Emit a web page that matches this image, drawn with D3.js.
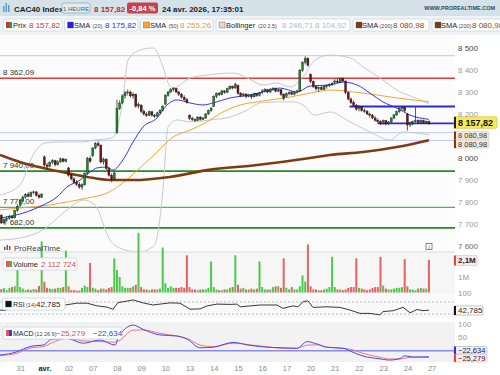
<!DOCTYPE html>
<html>
<head>
<meta charset="utf-8">
<script src="https://cdn.jsdelivr.net/npm/d3@7"></script>
<style>
  body { margin: 0; background: #fff; }
  svg { display: block; font-family: "Liberation Sans", Arial, sans-serif; }
</style>
</head>
<body>
<div id="chart"></div>
<script>
// ---- data ----
const dayLabels = ["31", "avr.", "02", "07", "08", "09", "10", "13", "14", "15", "16", "17", "20", "21", "22", "23", "24", "27"];
const firstCandle = 2; // Mar 30, 11:00 (index 0 = Mar 30 09:00, 9 hourly candles a day)

// [open, high, low, close]
const candles = [
  // 30 mars
  [7740, 7745, 7700, 7705], [7705, 7725, 7700, 7720], [7720, 7735, 7712, 7725], [7725, 7742, 7720, 7735],
  [7735, 7740, 7722, 7728], [7728, 7765, 7725, 7760], [7760, 7790, 7755, 7780],
  // 31
  [7785, 7812, 7778, 7805], [7805, 7830, 7800, 7822], [7822, 7840, 7815, 7835], [7835, 7845, 7820, 7826],
  [7826, 7848, 7822, 7842], [7842, 7852, 7835, 7846], [7846, 7850, 7825, 7830], [7830, 7838, 7815, 7822],
  [7822, 7840, 7818, 7836],
  // avr.
  [8005, 8012, 7960, 7968], [7968, 7978, 7950, 7962], [7962, 7985, 7958, 7980], [7980, 7995, 7972, 7988],
  [7988, 7992, 7962, 7970], [7970, 7990, 7965, 7982], [7982, 8002, 7978, 7996], [7996, 8000, 7980, 7985],
  [7985, 7998, 7980, 7992],
  // 02
  [7955, 7958, 7915, 7922], [7922, 7930, 7898, 7905], [7905, 7912, 7882, 7890], [7890, 7900, 7872, 7880],
  [7880, 7890, 7860, 7868], [7868, 7885, 7855, 7878], [7878, 7935, 7875, 7930], [7930, 8005, 7925, 7998],
  [7998, 8008, 7978, 7985],
  // 07
  [8010, 8050, 8005, 8045], [8045, 8072, 8040, 8065], [8065, 8078, 8052, 8058], [8058, 8062, 7975, 7982],
  [7982, 8002, 7970, 7995], [7995, 7998, 7945, 7952], [7952, 7960, 7915, 7922], [7922, 7930, 7890, 7905],
  [7905, 7938, 7900, 7932],
  // 08
  [8115, 8265, 8110, 8225], [8225, 8262, 8218, 8250], [8250, 8290, 8245, 8282], [8282, 8305, 8270, 8296],
  [8296, 8312, 8285, 8300], [8300, 8306, 8275, 8282], [8282, 8298, 8270, 8290], [8290, 8292, 8228, 8236],
  [8236, 8252, 8225, 8245],
  // 09
  [8240, 8245, 8205, 8212], [8212, 8220, 8192, 8200], [8200, 8208, 8186, 8194], [8194, 8215, 8190, 8210],
  [8210, 8212, 8188, 8195], [8195, 8200, 8182, 8190], [8190, 8210, 8188, 8205], [8205, 8222, 8198, 8216],
  [8216, 8240, 8212, 8235],
  // 10
  [8245, 8290, 8240, 8285], [8285, 8305, 8278, 8300], [8300, 8318, 8295, 8310], [8310, 8322, 8302, 8316],
  [8316, 8320, 8295, 8300], [8300, 8305, 8282, 8290], [8290, 8296, 8270, 8276], [8276, 8285, 8260, 8266],
  [8266, 8272, 8248, 8252],
  // 13
  [8195, 8198, 8172, 8180], [8180, 8188, 8168, 8175], [8175, 8180, 8164, 8170], [8170, 8190, 8168, 8186],
  [8186, 8190, 8170, 8176], [8176, 8186, 8172, 8182], [8182, 8205, 8178, 8200], [8200, 8220, 8196, 8215],
  [8215, 8232, 8210, 8226],
  // 14
  [8235, 8285, 8232, 8280], [8280, 8298, 8272, 8294], [8294, 8300, 8282, 8288], [8288, 8310, 8285, 8305],
  [8305, 8308, 8292, 8298], [8298, 8320, 8295, 8315], [8315, 8330, 8310, 8326], [8326, 8330, 8312, 8318],
  [8318, 8342, 8315, 8336],
  // 15
  [8330, 8334, 8288, 8294], [8294, 8300, 8278, 8284], [8284, 8296, 8280, 8291], [8291, 8294, 8272, 8280],
  [8280, 8292, 8276, 8287], [8287, 8290, 8268, 8278], [8278, 8296, 8275, 8292], [8292, 8295, 8278, 8284],
  [8284, 8300, 8280, 8296],
  // 16
  [8300, 8312, 8290, 8305], [8305, 8318, 8298, 8310], [8310, 8314, 8294, 8300], [8300, 8318, 8296, 8312],
  [8312, 8322, 8305, 8316], [8316, 8320, 8298, 8304], [8304, 8315, 8300, 8310], [8310, 8312, 8282, 8290],
  [8290, 8294, 8262, 8272],
  // 17
  [8280, 8298, 8275, 8292], [8292, 8302, 8285, 8298], [8298, 8305, 8286, 8290], [8290, 8302, 8285, 8300],
  [8300, 8310, 8292, 8305], [8305, 8405, 8300, 8398], [8398, 8440, 8392, 8435], [8435, 8462, 8425, 8452],
  [8452, 8458, 8415, 8422],
  // 20
  [8380, 8385, 8340, 8348], [8348, 8352, 8318, 8325], [8325, 8332, 8305, 8315], [8315, 8325, 8300, 8320],
  [8320, 8328, 8308, 8312], [8312, 8330, 8308, 8326], [8326, 8335, 8315, 8330], [8330, 8340, 8322, 8334],
  [8334, 8345, 8328, 8340],
  // 21
  [8345, 8358, 8335, 8350], [8350, 8362, 8340, 8344], [8344, 8365, 8340, 8360], [8360, 8366, 8345, 8350],
  [8350, 8352, 8290, 8298], [8298, 8302, 8262, 8268], [8268, 8275, 8245, 8252], [8252, 8262, 8235, 8240],
  [8240, 8245, 8215, 8222],
  // 22
  [8225, 8240, 8212, 8232], [8232, 8236, 8210, 8216], [8216, 8225, 8205, 8212], [8212, 8218, 8195, 8200],
  [8200, 8205, 8185, 8195], [8195, 8200, 8176, 8182], [8182, 8190, 8165, 8172], [8172, 8180, 8158, 8166],
  [8166, 8172, 8150, 8158],
  // 23
  [8165, 8175, 8152, 8170], [8170, 8172, 8148, 8155], [8155, 8168, 8150, 8164], [8164, 8185, 8160, 8182],
  [8182, 8200, 8176, 8196], [8196, 8215, 8190, 8210], [8210, 8230, 8205, 8226], [8226, 8235, 8215, 8230],
  [8230, 8234, 8208, 8215],
  // 24
  [8200, 8205, 8125, 8150], [8150, 8165, 8140, 8160], [8160, 8170, 8148, 8165], [8165, 8230, 8160, 8170],
  [8170, 8176, 8155, 8162], [8162, 8175, 8158, 8170], [8170, 8174, 8156, 8160], [8160, 8170, 8156, 8166],
  [8166, 8170, 8152, 8157.82]
];

// volume in millions, one per candle
const volumes = [
  0.22, 0.28, 0.15, 0.3, 0.35, 0.4, 2.1,
  0.35, 0.25, 0.15, 0.2, 0.17, 0.22, 0.2, 0.42, 3.3,
  0.7, 0.3, 0.25, 0.22, 0.25, 0.3, 0.3, 0.35, 2.7,
  0.4, 0.15, 0.15, 0.12, 0.13, 0.3, 0.45, 0.35, 1.9,
  0.3, 0.25, 0.15, 0.25, 0.25, 0.2, 0.3, 0.35, 2.2,
  1.45, 1.0, 0.4, 0.3, 0.3, 0.3, 0.4, 0.5, 3.85,
  0.35, 0.2, 0.2, 0.15, 0.2, 0.2, 0.2, 0.25, 2.9,
  0.6, 0.3, 0.4, 0.3, 0.3, 0.3, 0.35, 0.3, 2.4,
  0.35, 0.2, 0.2, 0.15, 0.2, 0.2, 0.2, 0.3, 2.0,
  0.35, 0.2, 0.15, 0.15, 0.2, 0.2, 0.3, 0.35, 2.4,
  0.5, 0.25, 0.3, 0.2, 0.2, 0.25, 0.2, 0.25, 2.0,
  0.35, 0.2, 0.2, 0.2, 0.35, 0.4, 0.4, 0.3, 2.2,
  0.3, 0.2, 0.35, 0.2, 0.2, 0.4, 1.1, 0.7, 3.1,
  0.4, 0.2, 0.2, 0.15, 0.15, 0.2, 0.25, 0.35, 2.3,
  0.35, 0.2, 0.2, 0.15, 0.2, 0.3, 0.35, 0.35, 2.2,
  0.3, 0.25, 0.2, 0.15, 0.2, 0.3, 0.35, 0.35, 2.3,
  0.45, 0.25, 0.2, 0.2, 0.25, 0.3, 0.3, 0.35, 2.15,
  0.4, 0.2, 0.2, 0.15, 0.25, 0.3, 0.25, 0.25, 2.11
];

// indicator lines, [candle index, value]
const sma20 = [[1.5, 7727], [11.5, 7755], [17.5, 7786], [22.7, 7823], [26.4, 7868], [31.3, 7900], [35, 7936],
  [37.6, 7955], [41.3, 7959], [43.5, 7945], [47.2, 7991], [51, 8073], [54.7, 8141], [59.9, 8182], [63.6, 8241],
  [67.3, 8264], [72.2, 8250], [77, 8241], [80.7, 8250], [87, 8273], [94.5, 8286], [101.9, 8309], [105.6, 8318],
  [112, 8300], [116.8, 8327], [124.2, 8332], [129.1, 8345], [134.3, 8332], [139.1, 8295], [143.9, 8255],
  [149.1, 8227], [154, 8195], [161, 8175.82]];
const sma50 = [[1.5, 7764], [8.9, 7773], [17.5, 7782], [26.4, 7800], [33.9, 7818], [41.3, 7841], [46.1, 7877],
  [53.6, 7955], [59.9, 8027], [65.8, 8095], [72.2, 8127], [78.5, 8164], [84.4, 8209], [90.8, 8241], [97.1, 8255],
  [104.5, 8268], [109.4, 8277], [116.8, 8295], [124.2, 8309], [136.5, 8295], [149.1, 8273], [161, 8255.26]];
const sma200 = [[1.5, 8014], [8.9, 7982], [17.5, 7955], [26.4, 7932], [33.9, 7914], [42.4, 7900], [51, 7900],
  [64.7, 7914], [78.5, 7945], [97.1, 7968], [116.8, 8000], [124.2, 8014], [136.5, 8027], [149.1, 8050], [161, 8080.98]];
const bollUpper = [[1.5, 7832], [8.9, 7877], [13.8, 8014], [18.2, 8068], [23.8, 8073], [32.4, 8073], [36.8, 8082],
  [43.2, 8091], [47.2, 8264], [49.1, 8445], [53.6, 8491], [58.4, 8500], [62.1, 8414], [64, 8341], [65.8, 8318],
  [72.2, 8364], [78.5, 8377], [88.2, 8386], [93.4, 8364], [99.3, 8332], [104.5, 8341], [109.4, 8323], [114.2, 8368],
  [118.6, 8445], [124.2, 8468], [131.7, 8455], [136.5, 8414], [142.8, 8364], [149.1, 8309], [155.1, 8277], [161, 8246.71]];
const bollLower = [[1.5, 7627], [8.9, 7636], [17.5, 7673], [26.4, 7764], [32.4, 7809], [36.8, 7786], [42.4, 7627],
  [48, 7582], [53.6, 7573], [59, 7605], [62.1, 7855], [64, 8141], [67.3, 8173], [72.2, 8164], [79.6, 8173],
  [87, 8186], [93.4, 8218], [98.2, 8250], [104.5, 8255], [110.5, 8255], [114.2, 8241], [118.6, 8195], [124.2, 8209],
  [131.7, 8164], [139.1, 8118], [146.5, 8082], [151.4, 8118], [161, 8104.92]];

const rsi = [[1.5, 43], [3.4, 42], [5.2, 49], [13, 62], [20, 58], [25.7, 60], [30.1, 66], [33.9, 66], [37.6, 57],
  [41.3, 53], [43.5, 46], [45.4, 68], [48.7, 73], [51, 77], [54.7, 67], [58.4, 60], [61, 63], [64.7, 67], [68.4, 66],
  [72.2, 46], [75.9, 47], [78.5, 57], [82.2, 63], [87, 62], [89.6, 63], [90.8, 54], [94.5, 57], [98.2, 60],
  [104.5, 60], [106.7, 49], [110.5, 57], [112.3, 54], [114.2, 71], [116, 74], [117.9, 52], [123.1, 54], [127.9, 52],
  [131.7, 43], [135.4, 32], [139.1, 32], [142.8, 27], [143.9, 38], [147.7, 41], [151.4, 52], [154, 34], [156.6, 45],
  [158.8, 41], [161, 42.785]];
const macdLine = [[1.5, -16], [7.8, -4], [10.8, 9], [13.8, 18], [17.5, 21], [20.8, 43], [26.4, 46], [32.4, 28],
  [38.7, 40], [44.3, 21], [45.4, 47], [51, 96], [54.7, 80], [61, 59], [67.3, 55], [71.1, 43], [75.9, 11], [80.7, 13],
  [88.2, 31], [94.5, 20], [100.8, 13], [106.7, 11], [111.9, 9], [115.7, 34], [119.4, 25], [123.1, 13], [129.1, 9],
  [132.8, -6], [136.5, -20], [141.7, -29], [146.5, -35], [150.3, -29], [152.1, -19], [155.1, -24], [161, -22.634]];
const signalLine = [[1.5, -18], [7.8, -10], [10.8, 4], [13.8, 12], [17.5, 15], [20.8, 30], [26.4, 46], [32.4, 37],
  [38.7, 34], [44.3, 32], [45.4, 35], [51, 77], [54.7, 78], [61, 65], [67.3, 55], [71.1, 46], [75.9, 21], [80.7, 15],
  [88.2, 28], [94.5, 22], [100.8, 15], [106.7, 9], [111.9, 9], [115.7, 21], [119.4, 22], [123.1, 13], [129.1, 9],
  [132.8, 3], [136.5, -10], [141.7, -22], [146.5, -31], [150.3, -31], [152.1, -28], [155.1, -24], [161, -25.279]];

const greenLevels = [7940, 7776, 7682];
const redLevel = 8362.09;
const guideLevels = [8465, 8115, 8080];
const supportLevels = [[131.5, 8234], [142, 8157.82]];
const priceTicks = [7600, 7700, 7800, 7900, 8000, 8200, 8300, 8400, 8500];

// ---- setup ----
const W = 500, H = 375;
const plotRight = 455;
const fr = d3.formatLocale({ decimal: ",", thousands: " ", grouping: [3], currency: ["", ""] });
const fmt0 = fr.format(",.0f"), fmt2 = fr.format(",.2f"), f3 = fr.format(",.3f");
const last = a => a[a.length - 1];

const svg = d3.select('#chart').append('svg').attr('width', W).attr('height', H);

const x = d3.scaleLinear().domain([0, 162]).range([-4.05, 431.6]);
const y = d3.scaleLinear().domain([7600, 8500]).range([246, 48]);
const yVol = d3.scaleLinear().domain([0, 1]).range([292.5, 277]);
const yRsi = d3.scaleLinear().domain([30, 70]).range([314, 302]);
const yMacd = d3.scaleLinear().domain([0, 100]).range([350.7, 324]);

const defs = svg.append('defs');
function clip(id, x0, y0, w, h) {
  defs.append('clipPath').attr('id', id).append('rect').attr('x', x0).attr('y', y0).attr('width', w).attr('height', h);
  return `url(#${id})`;
}

// backgrounds
svg.append('rect').attr('width', W).attr('height', H).attr('fill', '#fff');
svg.append('rect').attr('x', 0).attr('y', 0).attr('width', W).attr('height', 16).attr('fill', '#d5e2ea');
svg.append('rect').attr('x', 0).attr('y', 16).attr('width', W).attr('height', 19).attr('fill', '#f1f4f6');
svg.append('rect').attr('x', 0).attr('y', 35).attr('width', plotRight).attr('height', 217).attr('fill', '#fcfcfc');
svg.append('rect').attr('x', 0).attr('y', 252).attr('width', plotRight).attr('height', 42).attr('fill', '#f6f6f6');
svg.append('rect').attr('x', 0).attr('y', 295).attr('width', plotRight).attr('height', 24).attr('fill', '#f9f9f9');
svg.append('rect').attr('x', 0).attr('y', 322).attr('width', plotRight).attr('height', 40).attr('fill', '#f2f2f2');

// ---- price panel ----
const price = svg.append('g').attr('clip-path', clip('clipPrice', 0, 35, plotRight, 217));

price.selectAll('.guide').data(guideLevels).join('line')
  .attr('x1', 0).attr('x2', plotRight).attr('y1', d => y(d)).attr('y2', d => y(d))
  .attr('stroke', '#bcc8f0').attr('stroke-width', 1);

price.append('line').attr('x1', 0).attr('x2', plotRight).attr('y1', y(redLevel)).attr('y2', y(redLevel))
  .attr('stroke', '#e23b3b').attr('stroke-width', 1.5);

price.selectAll('.green').data(greenLevels).join('line')
  .attr('x1', 0).attr('x2', plotRight).attr('y1', d => y(d)).attr('y2', d => y(d))
  .attr('stroke', (d, i) => i === 1 ? '#58b058' : '#268a26').attr('stroke-width', (d, i) => i === 1 ? 1.2 : 1.8);

const levelLabels = [redLevel].concat(greenLevels);
price.selectAll('.lvl').data(levelLabels).join('text')
  .attr('x', 3).attr('y', d => y(d) - 3)
  .attr('font-size', 8).attr('fill', '#333').text(d => fmt2(d));

const lineGen = yy => d3.line().x(d => x(d[0])).y(d => yy(d[1])).curve(d3.curveMonotoneX);

price.append('path').datum(bollUpper).attr('d', lineGen(y)).attr('fill', 'none').attr('stroke', '#c9c9c9').attr('stroke-width', 1);
price.append('path').datum(bollLower).attr('d', lineGen(y)).attr('fill', 'none').attr('stroke', '#c9c9c9').attr('stroke-width', 1);
price.append('path').datum(sma50).attr('d', lineGen(y)).attr('fill', 'none').attr('stroke', '#f5a531').attr('stroke-width', 1);
price.append('path').datum(sma200).attr('d', lineGen(y)).attr('fill', 'none').attr('stroke', '#7e3b12').attr('stroke-width', 2.6);

price.selectAll('.sup').data(supportLevels).join('line')
  .attr('x1', d => x(d[0])).attr('x2', plotRight).attr('y1', d => y(d[1])).attr('y2', d => y(d[1]))
  .attr('stroke', '#2a2ad6').attr('stroke-width', 1.8);

price.append('path').datum(sma20).attr('d', lineGen(y)).attr('fill', 'none').attr('stroke', '#3434ff').attr('stroke-width', 1);

const cg = price.selectAll('.candle').data(candles).join('g');
cg.append('line')
  .attr('x1', (d, i) => x(i + firstCandle)).attr('x2', (d, i) => x(i + firstCandle))
  .attr('y1', d => y(d[1])).attr('y2', d => y(d[2]))
  .attr('stroke', '#111').attr('stroke-width', 0.7);
cg.append('rect')
  .attr('x', (d, i) => x(i + firstCandle) - 1).attr('width', 2)
  .attr('y', d => y(Math.max(d[0], d[3])))
  .attr('height', d => Math.max(0.8, Math.abs(y(d[0]) - y(d[3]))))
  .attr('fill', d => d[3] >= d[0] ? '#1f8a2a' : '#7a1212')
  .attr('stroke', '#111').attr('stroke-width', 0.35);

// right price axis
const axR = svg.append('g').attr('transform', 'translate(458,0)')
  .call(d3.axisRight(y).tickValues(priceTicks).tickSize(0).tickPadding(0).tickFormat(fmt0));
axR.select('.domain').remove();
axR.selectAll('text').attr('font-size', 8).attr('font-family', '"Liberation Sans", Arial, sans-serif')
  .attr('fill', d => (d === 8000 || d === 8500) ? '#444' : '#9a9a9a');

// price tags
function tag(y0, h, w, fill, stroke, bar, txt, size, weight, color) {
  const g = svg.append('g');
  g.append('rect').attr('x', 454).attr('y', y0).attr('width', w).attr('height', h).attr('rx', 1.5)
    .attr('fill', fill).attr('stroke', stroke).attr('stroke-width', 0.6);
  g.append('rect').attr('x', 454).attr('y', y0).attr('width', 2).attr('height', h).attr('fill', bar);
  g.append('text').attr('x', 458).attr('y', y0 + h / 2 + size * 0.36).attr('font-size', size)
    .attr('font-weight', weight).attr('fill', color).text(txt);
}
tag(131.5, 8.3, 35, '#f4e7dc', '#d9c4b4', '#7e3b12', fmt2(last(sma200)[1]), 7.5, 'normal', '#333');
tag(139.8, 8.3, 35, '#f4e7dc', '#d9c4b4', '#7e3b12', fmt2(last(sma200)[1]), 7.5, 'normal', '#333');
tag(116.8, 11.5, 43, '#f7ea5a', '#c9bb2a', '#222', fmt2(last(candles)[3]), 9, 'bold', '#111');

// ---- volume panel ----
svg.append('line').attr('x1', 0).attr('x2', plotRight).attr('y1', 252).attr('y2', 252).attr('stroke', '#dcdcdc');
const vol = svg.append('g').attr('clip-path', clip('clipVol', 0, 228, plotRight, 66));
vol.selectAll('rect').data(volumes).join('rect')
  .attr('x', (d, i) => x(i + firstCandle) - 1).attr('width', 2)
  .attr('y', d => yVol(d)).attr('height', d => yVol(0) - yVol(d))
  .attr('fill', (d, i) => candles[i][3] >= candles[i][0] ? '#4cc94c' : '#e26464');

svg.append('text').attr('x', 458).attr('y', y(7600) + 3).attr('font-size', 8).attr('fill', '#9a9a9a').text('7 600');
svg.append('text').attr('x', 458).attr('y', yVol(1) + 3).attr('font-size', 8).attr('fill', '#9a9a9a').text('1M');
tag(255.5, 10, 23, '#fde9e9', '#f0b4b4', '#e04848', '2,1M', 8, 'bold', '#222');

// ProRealTime watermark
const wm = svg.append('g');
[[4, 3], [6.5, 5], [9, 4]].forEach(d => {
  wm.append('rect').attr('x', d[0]).attr('y', 250 - d[1]).attr('width', 1.4).attr('height', d[1]).attr('fill', '#555');
});
wm.append('text').attr('x', 14).attr('y', 251).attr('font-size', 8).attr('fill', '#444').text('ProRealTime');
svg.append('rect').attr('x', 426).attr('y', 243.5).attr('width', 6).attr('height', 6).attr('fill', '#fff').attr('stroke', '#555').attr('stroke-width', 0.7);
svg.append('text').attr('x', 429).attr('y', 248.5).attr('font-size', 5).attr('text-anchor', 'middle').attr('fill', '#333').text('i');

// ---- RSI panel ----
svg.selectAll('.rsiref').data([70, 30]).join('line')
  .attr('x1', 0).attr('x2', plotRight).attr('y1', d => yRsi(d)).attr('y2', d => yRsi(d))
  .attr('stroke', '#aaa').attr('stroke-width', 0.7).attr('stroke-dasharray', '2,2');
svg.append('g').attr('clip-path', clip('clipRsi', 0, 292, plotRight, 28))
  .append('path').datum(rsi).attr('d', d3.line().x(d => x(d[0])).y(d => yRsi(d[1])))
  .attr('fill', 'none').attr('stroke', '#222').attr('stroke-width', 0.9);
svg.append('text').attr('x', 458).attr('y', yRsi(100) + 3).attr('font-size', 8).attr('fill', '#9a9a9a').text('100');
tag(306, 9, 29, '#fff', '#999', '#111', f3(last(rsi)[1]), 8, 'normal', '#222');

// ---- MACD panel ----
svg.append('line').attr('x1', 0).attr('x2', plotRight).attr('y1', yMacd(0)).attr('y2', yMacd(0))
  .attr('stroke', '#8a8af5').attr('stroke-width', 1.5);
const mg = svg.append('g').attr('clip-path', clip('clipMacd', 0, 320, plotRight, 42));
mg.append('path').datum(signalLine).attr('d', lineGen(yMacd)).attr('fill', 'none').attr('stroke', '#f07878').attr('stroke-width', 1);
mg.append('path').datum(macdLine).attr('d', lineGen(yMacd)).attr('fill', 'none').attr('stroke', '#4848f5').attr('stroke-width', 1);
svg.append('text').attr('x', 458).attr('y', yMacd(100) + 3).attr('font-size', 8).attr('fill', '#9a9a9a').text('100');
svg.append('text').attr('x', 458).attr('y', yMacd(50) + 3).attr('font-size', 8).attr('fill', '#9a9a9a').text('50');
tag(346.5, 7.5, 33, '#eeeeff', '#aab', '#3030e0', f3(last(macdLine)[1]), 7.5, 'normal', '#222');
tag(354.2, 7.8, 33, '#fdeeee', '#e0b0b0', '#e04848', f3(last(signalLine)[1]), 7.5, 'normal', '#222');

// ---- x axis ----
const dayTicks = dayLabels.map((d, k) => 9 + k * 9);
const axX = svg.append('g').attr('transform', 'translate(0,362)')
  .call(d3.axisBottom(x).tickValues(dayTicks).tickSize(0).tickPadding(0).tickFormat((d, k) => dayLabels[k]));
axX.select('.domain').remove();
axX.selectAll('text').attr('y', 3.5).attr('font-size', 7.5).attr('font-family', '"Liberation Sans", Arial, sans-serif')
  .attr('fill', (d, k) => dayLabels[k] === 'avr.' ? '#222' : '#8a8a8a')
  .attr('font-weight', (d, k) => dayLabels[k] === 'avr.' ? 'bold' : 'normal');

// ---- header ----
const hd = svg.append('g');
[[3, 6], [5.5, 9], [8, 7]].forEach(d => {
  hd.append('rect').attr('x', d[0]).attr('y', 12 - d[1]).attr('width', 1.5).attr('height', d[1]).attr('fill', '#5b9bd5');
});
hd.append('text').attr('x', 14).attr('y', 11.5).attr('font-size', 8).attr('font-weight', 'bold').attr('fill', '#222').text('CAC40 Index');
hd.append('rect').attr('x', 62).attr('y', 3).attr('width', 28).attr('height', 10).attr('rx', 2)
  .attr('fill', '#e2ebf1').attr('stroke', '#8fa3b2').attr('stroke-width', 0.7);
hd.append('text').attr('x', 76).attr('y', 10.5).attr('font-size', 6).attr('text-anchor', 'middle').attr('fill', '#4d6273').text('1 HEURE');
hd.append('text').attr('x', 94).attr('y', 11.5).attr('font-size', 8).attr('font-weight', 'bold').attr('fill', '#c22a2f').text(fmt2(last(candles)[3]));
hd.append('rect').attr('x', 127).attr('y', 2.5).attr('width', 31).attr('height', 11).attr('rx', 2).attr('fill', '#c1454a');
hd.append('text').attr('x', 142.5).attr('y', 11).attr('font-size', 7.5).attr('font-weight', 'bold').attr('text-anchor', 'middle').attr('fill', '#fff').text('-0,84 %');
hd.append('text').attr('x', 162).attr('y', 11.5).attr('font-size', 8).attr('font-weight', 'bold').attr('fill', '#222').text('24 avr. 2026, 17:35:01');
hd.append('text').attr('x', 495).attr('y', 10).attr('font-size', 5.5).attr('font-weight', 'bold').attr('text-anchor', 'end').attr('fill', '#34495e').text('WWW.PROREALTIME.COM');

// ---- legend boxes ----
function legend(x0, y0, w, swatch, parts) {
  const g = svg.append('g');
  g.append('rect').attr('x', x0).attr('y', y0).attr('width', w).attr('height', 12).attr('rx', 2)
    .attr('fill', '#fff').attr('stroke', '#c9d6de').attr('stroke-width', 0.8);
  if (swatch.length === 1) {
    g.append('rect').attr('x', x0 + 3).attr('y', y0 + 3).attr('width', 6).attr('height', 6).attr('fill', swatch[0]).attr('stroke', '#555').attr('stroke-width', 0.4);
  } else {
    g.append('rect').attr('x', x0 + 3).attr('y', y0 + 3).attr('width', 3).attr('height', 6).attr('fill', swatch[0]);
    g.append('rect').attr('x', x0 + 6).attr('y', y0 + 3).attr('width', 3).attr('height', 6).attr('fill', swatch[1]);
  }
  parts.forEach(p => {
    g.append('text').attr('x', p[0]).attr('y', y0 + 8.8).attr('font-size', p[2]).attr('fill', p[3]).text(p[1]);
  });
}
legend(3, 19, 59, ['#c8343a', '#2c9a2c'], [[13, 'Prix', 7.5, '#222'], [29, fmt2(last(candles)[3]), 8, '#d0303a']]);
legend(64.5, 19, 73.5, ['#2020ee'], [[74, 'SMA', 7.5, '#222'], [92.5, '(20)', 5.5, '#444'], [105, fmt2(last(sma20)[1]), 8, '#2a2aee']]);
legend(140.5, 19, 72.5, ['#f5a531'], [[150, 'SMA', 7.5, '#222'], [168.5, '(50)', 5.5, '#444'], [180, fmt2(last(sma50)[1]), 8, '#f0952a']]);
legend(216, 19, 134, ['#d8d8d8'], [[226, 'Bollinger', 7.5, '#222'], [258, '(20 2,5)', 5.5, '#444'],
  [282, fmt2(last(bollUpper)[1]), 8, '#b8b8b8'], [315, fmt2(last(bollLower)[1]), 8, '#b8b8b8']]);
legend(353, 19, 76, ['#7e3b12'], [[362, 'SMA', 7.5, '#222'], [379.5, '(200)', 5.5, '#444'], [393, fmt2(last(sma200)[1]), 8, '#8a4410']]);
legend(432, 19, 76, ['#7e3b12'], [[441, 'SMA', 7.5, '#222'], [458.5, '(200)', 5.5, '#444'], [472, fmt2(last(sma200)[1]), 8, '#8a4410']]);

legend(3, 258, 74, ['#e05a5a', '#3cbf3c'], [[13, 'Volume', 7.5, '#222'], [41, '2 112 724', 8, '#d84a4a']]);
legend(2.5, 298, 62.5, ['#111'], [[13, 'RSI', 7, '#222'], [26, '(14)', 5.5, '#444'], [36, f3(last(rsi)[1]), 8, '#222']]);
legend(3, 327, 119, ['#e05a5a', '#3a3ae0'], [[13, 'MACD', 7, '#222'], [34.5, '(12 26 9)', 5.5, '#444'],
  [56, f3(last(signalLine)[1]), 8, '#e04848'], [93, f3(last(macdLine)[1]), 8, '#3a3ae0']]);
</script>
</body>
</html>
